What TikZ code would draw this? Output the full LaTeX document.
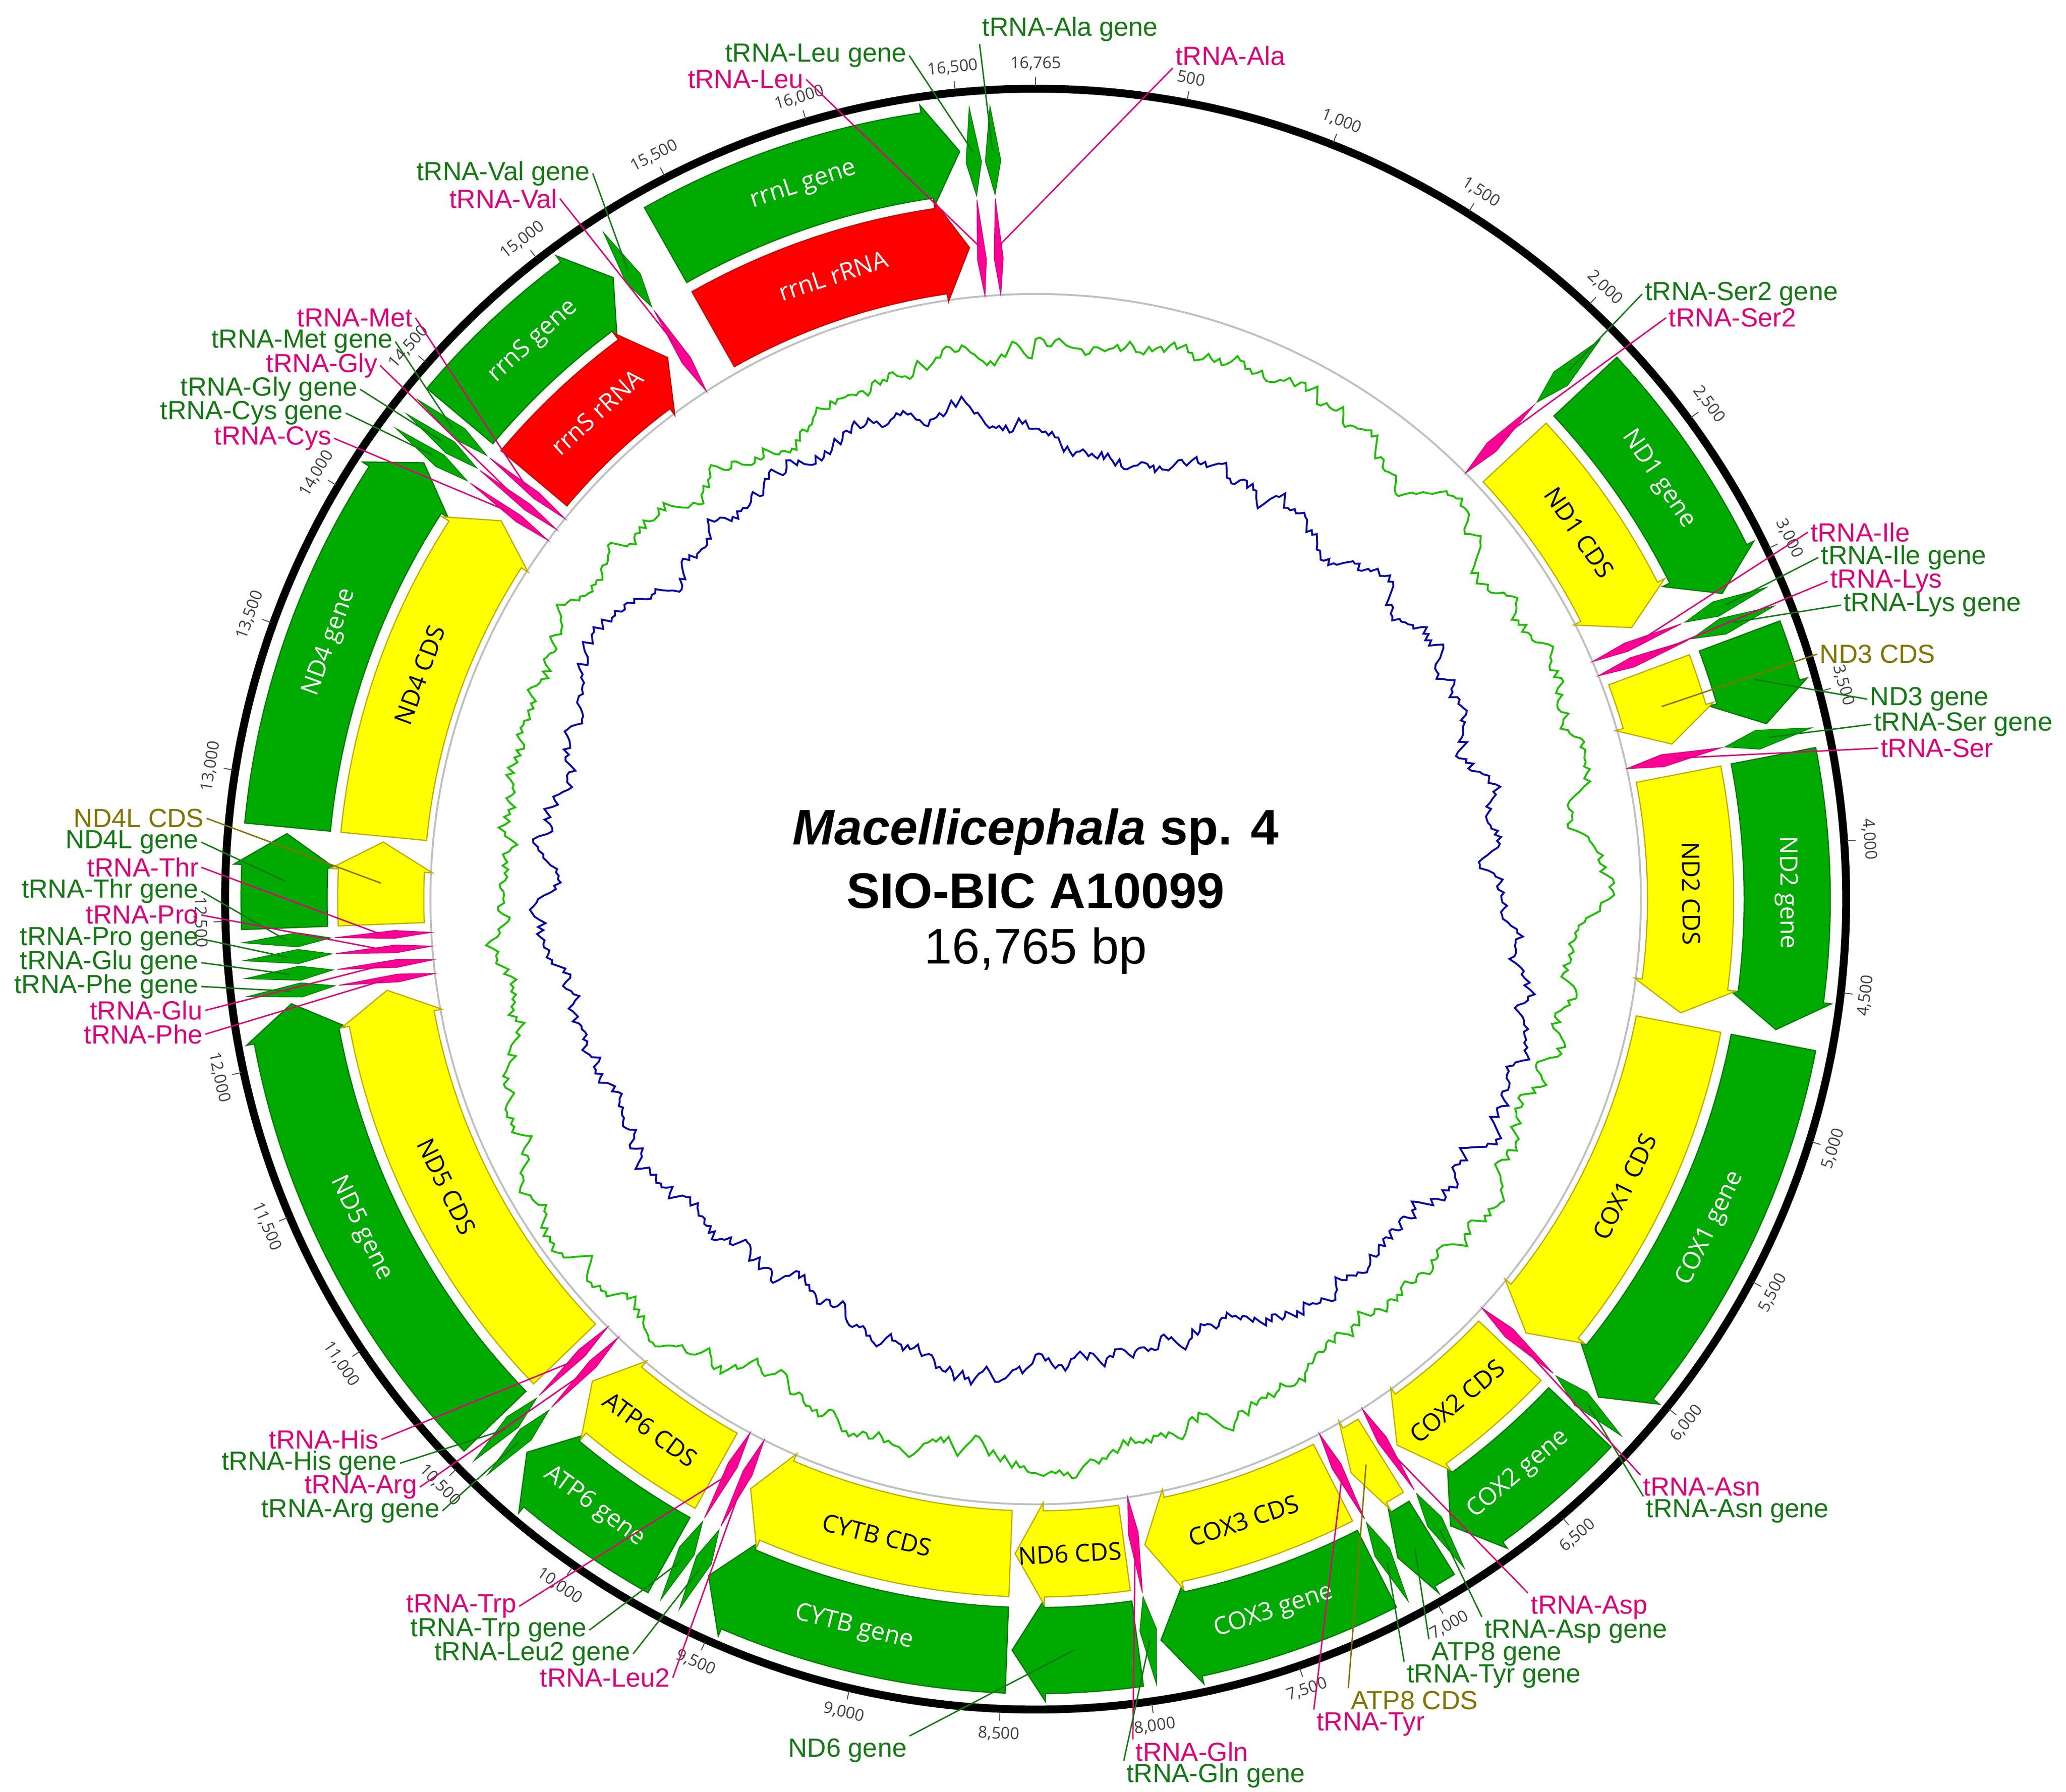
\documentclass[tikz,border=0pt]{standalone}
\usepackage{fontspec}
\setmainfont{Liberation Sans}
\newfontfamily\osans{Open Sans}
\definecolor{ggreen}{RGB}{0,170,0}
\definecolor{gbord}{RGB}{0,120,0}
\definecolor{cyel}{RGB}{255,255,0}
\definecolor{cbord}{RGB}{190,170,0}
\definecolor{rred}{RGB}{255,0,0}
\definecolor{rbord}{RGB}{200,0,0}
\definecolor{pk}{RGB}{255,0,150}
\definecolor{pktext}{RGB}{220,0,120}
\definecolor{gtext}{RGB}{20,120,20}
\definecolor{otext}{RGB}{130,115,0}
\definecolor{cgreen}{RGB}{30,190,0}
\definecolor{cblue}{RGB}{0,0,170}
\newcommand\garc[6]{%
 \pgfmathsetmacro\hh{min(2.5,0.45*(#2-#1))}%
 \pgfmathsetmacro\sA{90-#1}\pgfmathsetmacro\sB{90-(#2-\hh)}\pgfmathsetmacro\sT{90-#2}%
 \pgfmathsetmacro\rmid{(#3+#4)/2}%
 \path[#5] (\sA:#4) arc[start angle=\sA,end angle=\sB,radius=#4] -- (\sB:#4+6) -- (\sT:\rmid) -- (\sB:#3-6) -- (\sB:#3) arc[start angle=\sB,end angle=\sA,radius=#3] -- cycle;
 \coordinate (#6) at ({90-(#1+#2)/2}:\rmid);}
\newcommand\kite[6]{%
 \pgfmathsetmacro\kA{90-#1}\pgfmathsetmacro\kB{90-#2}\pgfmathsetmacro\kM{90-(#1+#2)/2}%
 \pgfmathsetmacro\kR{#3+0.38*(#4-#3)}\pgfmathsetmacro\rmid{(#3+#4)/2}%
 \path[#5] (\kM:#4) -- (\kA:\kR) -- (\kM:#3) -- (\kB:\kR) -- cycle;
 \coordinate (#6) at (\kM:\rmid);}
\newcommand\arclabel[4]{%
 \pgfmathsetmacro\rot{(#1<90 || #1>270) ? -#1 : 180-#1}%
 \node[inlbl,text=#3,rotate=\rot] (#4) at ({90-#1}:#2) {#4};}
% random-walk curve: #1 base radius, #2 phase, #3 amplitude of slow wave
\newcommand\walkcurve[4]{%
 \gdef\rw{0}\gdef\pts{}%
 \foreach \i in {0,...,899}{%
  \pgfmathsetmacro\rwn{0.93*\rw+5.5*(2*rnd-1)}\xdef\rw{\rwn}%
  \pgfmathsetmacro\ang{90-\i*0.4}%
  \pgfmathsetmacro\rr{#1+#3*sin(2*\i*0.4+#2)+7*sin(5*\i*0.4+#2)+\rw}%
  \xdef\pts{\pts (\ang:\rr)}}%
 \draw[#4,line width=0.8pt] plot coordinates {\pts} -- cycle;}
\tikzset{
 gene/.style={fill=ggreen,draw=gbord,line width=0.5pt},
 cds/.style={fill=cyel,draw=cbord,line width=0.5pt},
 rrna/.style={fill=rred,draw=rbord,line width=0.5pt},
 ptrna/.style={fill=pk,draw=pk!80!black,line width=0.3pt},
 gtrna/.style={fill=ggreen,draw=gbord,line width=0.3pt},
 inlbl/.style={font=\osans\fontsize{10.5}{12}\selectfont,inner sep=0pt},
 lbl/.style={font=\fontsize{11.3}{13}\selectfont,inner sep=1pt},
 plbl/.style={lbl,text=pktext},
 glbl/.style={lbl,text=gtext},
 olbl/.style={lbl,text=otext},
 pline/.style={draw=pktext,line width=0.6pt},
 gline/.style={draw=gtext,line width=0.6pt},
 oline/.style={draw=otext,line width=0.6pt},
 ticklbl/.style={font=\osans\fontsize{7}{8}\selectfont,text=black!75,inner sep=0pt}
}
\begin{document}
\begin{tikzpicture}[x=0.2mm,y=0.2mm]
\useasboundingbox (0,0) rectangle (1560,1353);
\fill[white] (0,0) rectangle (1560,1353);
\begin{scope}[shift={(782,674)}]
\pgfmathsetseed{4242}
% curves
\walkcurve{418}{20}{14}{cgreen}
\walkcurve{360}{200}{10}{cblue}
\draw[black!25,line width=0.8pt] (0,0) circle[radius=457];
\draw[black,line width=3.4pt] (0,0) circle[radius=612];
\foreach \k in {1,...,33}{
 \pgfmathsetmacro\th{\k*10.73665}
 \pgfmathsetmacro\rot{(\th<90 || \th>270) ? -\th : 180-\th}
 \pgfmathtruncatemacro\thou{\k/2}
 \ifodd\k \def\rem{500}\else\def\rem{000}\fi
 \ifnum\k=1 \def\txt{500}\else\edef\txt{\thou,\rem}\fi
 \draw[black!70,line width=0.4pt] ({90-\th}:614) -- ({90-\th}:621);
 \node[ticklbl,rotate=\rot] at ({90-\th}:631) {\txt};
}
\draw[black!70,line width=0.4pt] (90:614) -- (90:621);
\node[ticklbl] at (90:631) {16,765};
% big features
\garc{47}{66}{535}{600}{gene}{gND1}
\garc{47}{65.5}{462}{527}{cds}{cND1}
\garc{69.5}{76.5}{535}{600}{gene}{gND3}
\garc{69.5}{76.3}{462}{527}{cds}{cND3}
\garc{79}{100}{535}{600}{gene}{gND2}
\garc{79}{100}{462}{527}{cds}{cND2}
\garc{101}{131.5}{535}{600}{gene}{gCOX1}
\garc{101}{131.5}{462}{527}{cds}{cCOX1}
\garc{133.6}{146.5}{535}{600}{gene}{gCOX2}
\garc{133.6}{146.5}{462}{527}{cds}{cCOX2}
\garc{148.2}{151.2}{535}{600}{gene}{gATP8}
\garc{148.2}{151.2}{462}{527}{cds}{cATP8}
\garc{153}{170.4}{535}{600}{gene}{gCOX3}
\garc{153}{170.4}{462}{527}{cds}{cCOX3}
\garc{172.2}{181.8}{535}{600}{gene}{gND6}
\garc{172.2}{181.8}{462}{527}{cds}{cND6}
\garc{182.2}{205.8}{535}{600}{gene}{gCYTB}
\garc{182.2}{205.8}{462}{527}{cds}{cCYTB}
\garc{209.2}{222.6}{535}{600}{gene}{gATP6}
\garc{209.2}{222.6}{462}{527}{cds}{cATP6}
\garc{226}{262}{535}{600}{gene}{gND5}
\garc{226}{262}{462}{527}{cds}{cND5}
\garc{267.8}{275}{535}{600}{gene}{gND4L}
\garc{267.8}{275}{462}{527}{cds}{cND4L}
\garc{275.5}{305.5}{535}{600}{gene}{gND4}
\garc{275.5}{305.3}{462}{527}{cds}{cND4}
\garc{310}{325.8}{535}{600}{gene}{grrnS}
\garc{310}{325.8}{462}{527}{rrna}{rrrnS}
\garc{330.5}{354.2}{535}{600}{gene}{grrnL}
\garc{330.5}{354.2}{462}{527}{rrna}{rrrnL}
% tRNAs
\foreach \a/\b/\n in {44.5/46/SerII,66.3/67.5/Ile,67.7/69/Lys,76.8/78.3/Ser,131.8/133.2/Asn,146.7/148/Asp,151.4/152.7/Tyr,170.6/171.9/Gln,206/207.3/LeuII,207.5/208.8/Trp,223/224.2/Arg,224.4/225.6/His,262.4/263.5/Phe,263.7/264.8/Glu,265/266.1/Pro,266.3/267.4/Thr,305.8/306.9/Cys,307.1/308.2/Gly,308.4/309.5/Met,326.4/327.7/Val,354.6/355.8/Leu,356.1/357.3/Ala}{
 \kite{\a}{\b}{533}{600}{gtrna}{g\n}
 \kite{\a-0.2}{\b+0.2}{457}{530}{ptrna}{t\n}
}
% inner labels
\arclabel{342}{567}{white}{rrnL gene}
\arclabel{342}{495}{white}{rrnL rRNA}
\arclabel{318}{567}{white}{rrnS gene}
\arclabel{318}{495}{white}{rrnS rRNA}
\arclabel{56}{567}{white}{ND1 gene}
\arclabel{56}{495}{black}{ND1 CDS}
\arclabel{89.5}{567}{white}{ND2 gene}
\arclabel{89.5}{495}{black}{ND2 CDS}
\arclabel{116}{567}{white}{COX1 gene}
\arclabel{116}{495}{black}{COX1 CDS}
\arclabel{140}{567}{white}{COX2 gene}
\arclabel{140}{495}{black}{COX2 CDS}
\arclabel{161.5}{567}{white}{COX3 gene}
\arclabel{161.5}{495}{black}{COX3 CDS}
\arclabel{177}{495}{black}{ND6 CDS}
\arclabel{194}{567}{white}{CYTB gene}
\arclabel{194}{495}{black}{CYTB CDS}
\arclabel{216}{567}{white}{ATP6 gene}
\arclabel{216}{495}{black}{ATP6 CDS}
\arclabel{244}{567}{white}{ND5 gene}
\arclabel{244}{495}{black}{ND5 CDS}
\arclabel{290}{567}{white}{ND4 gene}
\arclabel{290}{495}{black}{ND4 CDS}
\end{scope}
% title
\node[font=\bfseries\fontsize{21.5}{25}\selectfont] (t1) at (782,725) {\textit{Macellicephala} sp. 4};
\node[font=\bfseries\fontsize{21.5}{25}\selectfont] (t2) at (782,680) {SIO-BIC A10099};
\node[font=\fontsize{21.5}{25}\selectfont] (t3) at (782,635) {16,765 bp};
% outer labels: top
\node[glbl] (lAlaG) at (808,1331) {tRNA-Ala gene};
\node[glbl] (lLeuG) at (616,1311) {tRNA-Leu gene};
\node[plbl] (lLeu) at (563,1293) {tRNA-Leu};
\node[plbl] (lAla) at (929,1311) {tRNA-Ala};
\node[glbl] (lValG) at (380,1222) {tRNA-Val gene};
\node[plbl] (lVal) at (380,1203) {tRNA-Val};
\node[plbl] (lMet) at (268,1113) {tRNA-Met};
\node[glbl] (lMetG) at (228,1095) {tRNA-Met gene};
\node[plbl] (lGly) at (243,1077) {tRNA-Gly};
\node[glbl] (lGlyG) at (203,1059) {tRNA-Gly gene};
\node[glbl] (lCysG) at (190,1041) {tRNA-Cys gene};
\node[plbl] (lCys) at (206,1022) {tRNA-Cys};
\draw[gline] (lAlaG.south west) -- (gAla);
\draw[gline] (lLeuG.east) -- (gLeu);
\draw[pline] (lLeu.east) -- (tLeu);
\draw[pline] (lAla.south west) -- (tAla);
\draw[gline] (lValG.east) -- (gVal);
\draw[pline] (lVal.east) -- (tVal);
\draw[pline] (lMet.east) -- (tMet);
\draw[gline] (lMetG.east) -- (gMet);
\draw[pline] (lGly.east) -- (tGly);
\draw[gline] (lGlyG.east) -- (gGly);
\draw[gline] (lCysG.east) -- (gCys);
\draw[pline] (lCys.east) -- (tCys);
% left
\node[olbl,anchor=east] (lND4LC) at (156,735) {ND4L CDS};
\node[glbl,anchor=east] (lND4LG) at (152,717) {ND4L gene};
\node[plbl,anchor=east] (lThr) at (152,698) {tRNA-Thr};
\node[glbl,anchor=east] (lThrG) at (152,680) {tRNA-Thr gene};
\node[plbl,anchor=east] (lPro) at (152,662) {tRNA-Pro};
\node[glbl,anchor=east] (lProG) at (152,644) {tRNA-Pro gene};
\node[glbl,anchor=east] (lGluG) at (152,626) {tRNA-Glu gene};
\node[glbl,anchor=east] (lPheG) at (152,608) {tRNA-Phe gene};
\node[plbl,anchor=east] (lGlu) at (155,590) {tRNA-Glu};
\node[plbl,anchor=east] (lPhe) at (155,572) {tRNA-Phe};
\draw[oline] (lND4LC.east) -- (cND4L);
\draw[gline] (lND4LG.east) -- (gND4L);
\draw[pline] (lThr.east) -- (tThr);
\draw[gline] (lThrG.east) -- (gThr);
\draw[pline] (lPro.east) -- (tPro);
\draw[gline] (lProG.east) -- (gPro);
\draw[gline] (lGluG.east) -- (gGlu);
\draw[gline] (lPheG.east) -- (gPhe);
\draw[pline] (lGlu.east) -- (tGlu);
\draw[pline] (lPhe.east) -- (tPhe);
% bottom left
\node[plbl,anchor=east] (lHis) at (288,266) {tRNA-His};
\node[glbl,anchor=east] (lHisG) at (302,248) {tRNA-His gene};
\node[plbl,anchor=east] (lArg) at (317,230) {tRNA-Arg};
\node[glbl,anchor=east] (lArgG) at (334,212) {tRNA-Arg gene};
\node[plbl,anchor=east] (lTrp) at (392,140) {tRNA-Trp};
\node[glbl,anchor=east] (lTrpG) at (445,122) {tRNA-Trp gene};
\node[glbl,anchor=east] (lLeuIIG) at (478,104) {tRNA-Leu2 gene};
\node[plbl,anchor=east] (lLeuII) at (508,86) {tRNA-Leu2};
\draw[pline] (lHis.east) -- (tHis);
\draw[gline] (lHisG.east) -- (gHis);
\draw[pline] (lArg.east) -- (tArg);
\draw[gline] (lArgG.east) -- (gArg);
\draw[pline] (lTrp.east) -- (tTrp);
\draw[gline] (lTrpG.east) -- (gTrp);
\draw[gline] (lLeuIIG.east) -- (gLeuII);
\draw[pline] (lLeuII.east) -- (tLeuII);
% bottom
\node[glbl] (lND6G) at (640,31) {ND6 gene};
\node[plbl] (lGln) at (900,30) {tRNA-Gln};
\node[glbl] (lGlnG) at (918,12) {tRNA-Gln gene};
\node[plbl] (lTyr) at (1035,51) {tRNA-Tyr};
\node[olbl] (lATP8C) at (1068,69) {ATP8 CDS};
\node[glbl] (lTyrG) at (1128,87) {tRNA-Tyr gene};
\node[glbl] (lATP8G) at (1130,104) {ATP8 gene};
\node[glbl] (lAspG) at (1190,121) {tRNA-Asp gene};
\node[plbl] (lAsp) at (1200,139) {tRNA-Asp};
\node[glbl] (lAsnG) at (1312,212) {tRNA-Asn gene};
\node[plbl] (lAsn) at (1285,230) {tRNA-Asn};
\draw[gline] (lND6G.north east) -- (gND6);
\draw[pline] (lGln.north west) -- (tGln);
\draw[gline] (lGlnG.north west) -- (gGln);
\draw[pline] (lTyr.north west) -- (tTyr);
\draw[oline] (lATP8C.north west) -- (cATP8);
\draw[gline] (lTyrG.north west) -- (gTyr);
\draw[gline] (lATP8G.north west) -- (gATP8);
\draw[gline] (lAspG.north west) -- (gAsp);
\draw[pline] (lAsp.north west) -- (tAsp);
\draw[gline] (lAsnG.north west) -- (gAsn);
\draw[pline] (lAsn.north west) -- (tAsn);
% right
\node[plbl,anchor=west] (lSer) at (1418,788) {tRNA-Ser};
\node[glbl,anchor=west] (lSerG) at (1413,806) {tRNA-Ser gene};
\node[glbl,anchor=west] (lND3G) at (1410,825) {ND3 gene};
\node[olbl,anchor=west] (lND3C) at (1372,859) {ND3 CDS};
\node[glbl,anchor=west] (lLysG) at (1390,896) {tRNA-Lys gene};
\node[plbl,anchor=west] (lLys) at (1380,914) {tRNA-Lys};
\node[glbl,anchor=west] (lIleG) at (1373,932) {tRNA-Ile gene};
\node[plbl,anchor=west] (lIle) at (1365,951) {tRNA-Ile};
\node[plbl,anchor=west] (lSerII) at (1258,1113) {tRNA-Ser2};
\node[glbl,anchor=west] (lSerIIG) at (1240,1131) {tRNA-Ser2 gene};
\draw[pline] (lSer.west) -- (tSer);
\draw[gline] (lSerG.west) -- (gSer);
\draw[gline] (lND3G.west) -- (gND3);
\draw[oline] (lND3C.west) -- (cND3);
\draw[gline] (lLysG.west) -- (gLys);
\draw[pline] (lLys.west) -- (tLys);
\draw[gline] (lIleG.west) -- (gIle);
\draw[pline] (lIle.west) -- (tIle);
\draw[pline] (lSerII.west) -- (tSerII);
\draw[gline] (lSerIIG.west) -- (gSerII);
\end{tikzpicture}
\end{document}
